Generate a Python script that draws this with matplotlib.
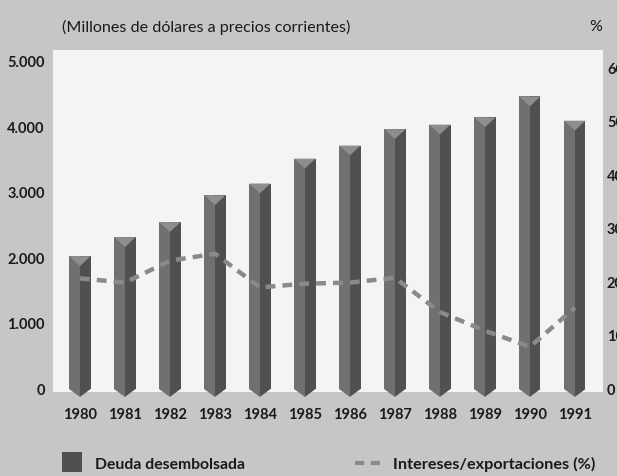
import matplotlib
matplotlib.use("Agg")
import matplotlib.pyplot as plt
from matplotlib.patches import Polygon, Rectangle

years = ["1980", "1981", "1982", "1983", "1984", "1985",
         "1986", "1987", "1988", "1989", "1990", "1991"]
# Deuda desembolsada (millones de dolares)
deuda = [2030, 2320, 2550, 2960, 3140, 3520, 3720, 3970, 4040, 4150, 4470, 4100]
# Intereses/exportaciones (%)
intereses = [20.7, 19.9, 24.0, 25.3, 19.0, 19.7, 19.9, 20.8, 14.4, 10.9, 7.9, 15.2]

left_ticks = [0, 1000, 2000, 3000, 4000, 5000]
left_labels = ["0", "1.000", "2.000", "3.000", "4.000", "5.000"]
right_ticks = [0, 10, 20, 30, 40, 50, 60]

BG = "#c6c6c6"
PANEL = "#f4f4f4"
LIGHT = "#707070"
DARK = "#505050"
CAP = "#8e8e8e"
LINE = "#8a8a8a"
FONT = "Lato"

plt.rcParams["font.family"] = FONT

fig = plt.figure(figsize=(6.17, 4.76), dpi=100, facecolor=BG)
ax = fig.add_axes([0.0859, 0.1639, 0.8911, 0.7311])
ax.set_facecolor("none")
ylo, yhi = -137, 5180
ax.set_xlim(-0.6, 11.62)
ax.set_ylim(ylo, yhi)

# white panel
ax.add_patch(Rectangle((-0.6, -40), 12.22, yhi + 40, facecolor=PANEL,
                       edgecolor="none", zorder=0))

w = 0.47
tip = 120
cap = 150
x = list(range(len(years)))
ax.bar(x, deuda, width=w / 2, align="edge", color=DARK, zorder=2)
ax.bar([i - w / 2 for i in x], deuda, width=w / 2, align="edge", color=LIGHT, zorder=2)
for i, v in zip(x, deuda):
    # top cap
    ax.add_patch(Polygon([(i - w / 2, v), (i + w / 2, v), (i, v - cap)],
                         closed=True, facecolor=CAP, edgecolor="none", zorder=3))
    # pointed bottom
    ax.add_patch(Polygon([(i - w / 2, 0), (i, 0), (i, -tip)],
                         closed=True, facecolor=LIGHT, edgecolor="none", zorder=2))
    ax.add_patch(Polygon([(i, 0), (i + w / 2, 0), (i, -tip)],
                         closed=True, facecolor=DARK, edgecolor="none", zorder=2))

for s in ax.spines.values():
    s.set_visible(False)
ax.set_yticks(left_ticks)
ax.set_yticklabels(left_labels, fontweight="bold", fontsize=10.5, color="#1a1a1a")
ax.set_xticks(x)
ax.set_xticklabels(years, fontweight="bold", fontsize=10.5, color="#1a1a1a")
ax.tick_params(axis="both", length=0)
ax.tick_params(axis="y", pad=6)
ax.tick_params(axis="x", pad=7)

ax2 = ax.twinx()
ax2.set_ylim(ylo / 81.7, yhi / 81.7)
ax2.plot(x, intereses, color=LINE, lw=3.2, dashes=(2.2, 1.6), zorder=5)
ax2.set_zorder(ax.get_zorder() + 1)
for s in ax2.spines.values():
    s.set_visible(False)
ax2.set_yticks(right_ticks)
ax2.set_yticklabels([str(t) for t in right_ticks], fontweight="bold",
                    fontsize=10.5, color="#1a1a1a")
ax2.tick_params(axis="y", length=0, pad=3)

fig.text(0.1, 0.943, "(Millones de dólares a precios corrientes)", fontsize=11.6,
         color="#1a1a1a", va="center", ha="left")
fig.text(0.955, 0.943, "%", fontsize=11.5, color="#1a1a1a", va="center", ha="left")

# legend
fig.patches.append(Rectangle((0.1005, 0.008), 0.032, 0.042, transform=fig.transFigure,
                             facecolor=DARK, edgecolor="none"))
fig.text(0.154, 0.024, "Deuda desembolsada", fontsize=11.3, fontweight="bold",
         color="#1a1a1a", va="center", ha="left")
fig.lines.append(plt.Line2D([0.576, 0.624], [0.027, 0.027], transform=fig.transFigure,
                            color=LINE, lw=3, dashes=(2.2, 1.6)))
fig.text(0.637, 0.024, "Intereses/exportaciones (%)", fontsize=11.7, fontweight="bold",
         color="#1a1a1a", va="center", ha="left")

fig.savefig("out.png", dpi=100, facecolor=BG)
